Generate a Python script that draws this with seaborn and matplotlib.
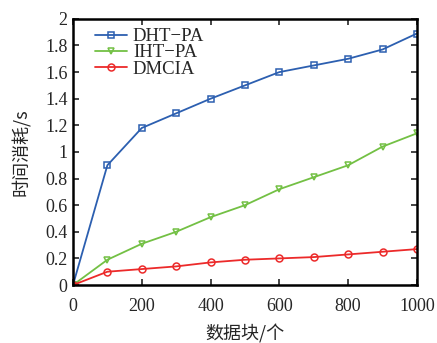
import numpy as np
import pandas as pd
import matplotlib
matplotlib.use("Agg")
import matplotlib.pyplot as plt
import seaborn as sns

# 数据
blocks = [0, 100, 200, 300, 400, 500, 600, 700, 800, 900, 1000]
dht_pa = [0, 0.90, 1.18, 1.29, 1.40, 1.50, 1.60, 1.65, 1.70, 1.77, 1.89]
iht_pa = [0, 0.19, 0.31, 0.40, 0.51, 0.60, 0.72, 0.81, 0.90, 1.04, 1.14]
dmcia = [0, 0.10, 0.12, 0.14, 0.17, 0.19, 0.20, 0.21, 0.23, 0.25, 0.27]
series_names = ["DHT\u2212PA", "IHT\u2212PA", "DMCIA"]

sns.set_style("ticks")
plt.rcParams['font.family'] = ['Liberation Serif', 'Noto Sans CJK SC']
plt.rcParams['axes.unicode_minus'] = False

df = pd.DataFrame({
    "x": blocks * 3,
    "y": dht_pa + iht_pa + dmcia,
    "name": [series_names[0]] * len(blocks) + [series_names[1]] * len(blocks) + [series_names[2]] * len(blocks),
})

colors = {series_names[0]: "#2c5fb0", series_names[1]: "#73c044", series_names[2]: "#ec2a2a"}
markers = {series_names[0]: "s", series_names[1]: "v", series_names[2]: "o"}

fig = plt.figure(figsize=(4.37, 3.43), dpi=100)
ax = fig.add_axes([0.167, 0.169, 0.787, 0.776])

for name in series_names:
    sub = df[df["name"] == name]
    sns.lineplot(data=sub, x="x", y="y", ax=ax, color=colors[name], marker=markers[name],
                 markersize=5, markerfacecolor="none", markeredgecolor=colors[name],
                 markeredgewidth=1.1, linewidth=1.3, label=name)

ax.set_xlim(0, 1000)
ax.set_ylim(0, 2)
ax.set_xticks([0, 200, 400, 600, 800, 1000])
ax.set_yticks(np.arange(0, 2.01, 0.2))
ax.set_yticklabels(["0", "0.2", "0.4", "0.6", "0.8", "1", "1.2", "1.4", "1.6", "1.8", "2"])
ax.tick_params(direction="in", top=True, right=True, labelsize=13, length=4, width=1.2)
ax.tick_params(axis="x", pad=9)
ax.tick_params(axis="y", pad=4)
for s in ax.spines.values():
    s.set_linewidth(1.8)
    s.set_color("black")

ax.set_xlabel("数据块/个", fontsize=13, family=['Noto Sans CJK SC'], labelpad=7)
ax.set_ylabel("时间消耗/s", fontsize=13, family=['Noto Sans CJK SC', 'Liberation Serif'], labelpad=10)

ax.legend(loc="upper left", bbox_to_anchor=(0.065, 0.965), frameon=False, fontsize=13.5,
          handlelength=1.7, borderaxespad=0, borderpad=0, labelspacing=-0.05, handletextpad=0.3)

plt.savefig("out.png", dpi=100)
